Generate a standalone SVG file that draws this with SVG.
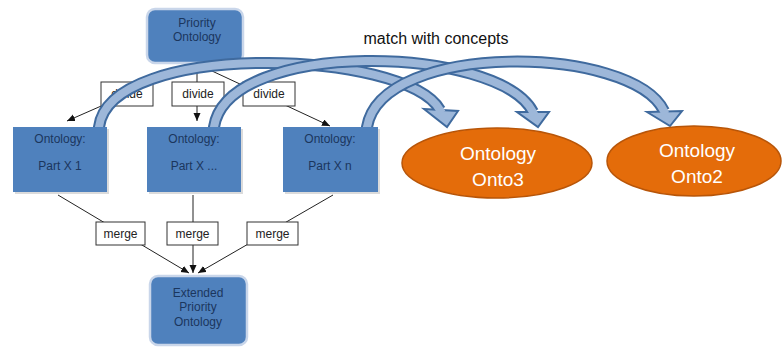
<svg xmlns="http://www.w3.org/2000/svg" width="783" height="354" viewBox="0 0 783 354">
<defs>
<marker id="ah" markerWidth="9" markerHeight="8" refX="8" refY="3.5" orient="auto" markerUnits="userSpaceOnUse">
<path d="M0,0 L8,3.5 L0,7 z" fill="#111"/>
</marker>
<style>
.blue{fill:#4F81BD}
.glow{stroke:#C9D6EA;stroke-width:2.5}
.shadow{fill:#B8B8B8;opacity:0.5}
.btxt{font-family:"Liberation Sans",Arial,sans-serif;font-size:12px;fill:#1B365D;text-anchor:middle}
.lbl{fill:#fff;stroke:#333;stroke-width:1}
.ltxt{font-family:"Liberation Sans",Arial,sans-serif;font-size:12px;fill:#222;text-anchor:middle}
.conn{stroke:#222;stroke-width:1;fill:none}
.ell{fill:#E46C0A;stroke:#B85508;stroke-width:1.5}
.etxt{font-family:"Liberation Sans",Arial,sans-serif;font-size:19px;fill:#fff;text-anchor:middle}
.sh-out{fill:none;stroke:#3F6A9E;stroke-width:12}
.sh-in{fill:none;stroke:#9DB7D9;stroke-width:8}
.head{fill:#9DB7D9;stroke:#3F6A9E;stroke-width:2;stroke-linejoin:miter}
</style>
</defs>
<rect width="783" height="354" fill="#fff"/>

<text x="436" y="44" font-family="Liberation Sans,Arial,sans-serif" font-size="16" fill="#111" text-anchor="middle">match with concepts</text>

<g id="priority">
<rect x="147" y="9" width="96" height="54" rx="8" class="blue glow"/>
<text x="197" y="27" class="btxt">Priority</text>
<text x="197" y="41" class="btxt">Ontology</text>
</g>

<g id="connectors">
<line x1="197" y1="64" x2="67" y2="121" class="conn" marker-end="url(#ah)"/>
<line x1="197" y1="64" x2="197" y2="121" class="conn" marker-end="url(#ah)"/>
<line x1="197" y1="64" x2="330" y2="126" class="conn" marker-end="url(#ah)"/>
<line x1="58" y1="195" x2="189" y2="273" class="conn" marker-end="url(#ah)"/>
<line x1="193" y1="195" x2="193" y2="273" class="conn" marker-end="url(#ah)"/>
<line x1="333" y1="195" x2="198" y2="273" class="conn" marker-end="url(#ah)"/>
</g>

<g id="divide1"><rect x="101" y="82" width="52" height="24" class="lbl"/><text x="127" y="98" class="ltxt">divide</text></g>
<g id="divide2"><rect x="172" y="82" width="52" height="24" class="lbl"/><text x="198" y="98" class="ltxt">divide</text></g>
<g id="divide3"><rect x="243" y="82" width="52" height="24" class="lbl"/><text x="269" y="98" class="ltxt">divide</text></g>

<g id="match-arrows">
<g id="match1">
<path d="M99 130 L99 127 C110 40 405 49 440 110" class="sh-out"/>
<polygon points="424,109 458,111 447,127" class="head"/>
<path d="M99 130 L99 127 C110 40 405 49 440 110 L442 113" class="sh-in"/>
</g>
<g id="match2">
<path d="M214 130 L214 127 C228 38 498 45 533 112" class="sh-out"/>
<polygon points="517,112 549,112 538,127" class="head"/>
<path d="M214 130 L214 127 C228 38 498 45 533 112 L534.5 115" class="sh-in"/>
</g>
<g id="match3">
<path d="M367 130 L367 127 C382 40 632 45 664 111" class="sh-out"/>
<polygon points="647,112 682,111 670,126" class="head"/>
<path d="M367 130 L367 127 C382 40 632 45 664 111 L665.5 114" class="sh-in"/>
</g>
</g>

<g id="part1">
<rect x="15" y="129" width="94" height="65" class="shadow"/>
<rect x="13" y="127" width="94" height="65" class="blue"/>
<text x="60" y="143" class="btxt">Ontology:</text>
<text x="60" y="170" class="btxt">Part X 1</text>
</g>
<g id="part2">
<rect x="149" y="129" width="94" height="65" class="shadow"/>
<rect x="147" y="127" width="94" height="65" class="blue"/>
<text x="194" y="143" class="btxt">Ontology:</text>
<text x="194" y="170" class="btxt">Part X ...</text>
</g>
<g id="part3">
<rect x="285" y="129" width="95" height="65" class="shadow"/>
<rect x="283" y="127" width="95" height="65" class="blue"/>
<text x="330" y="143" class="btxt">Ontology:</text>
<text x="330" y="170" class="btxt">Part X n</text>
</g>

<g id="merge1"><rect x="96" y="222" width="49" height="23" class="lbl"/><text x="120.5" y="238" class="ltxt">merge</text></g>
<g id="merge2"><rect x="167" y="222" width="51" height="23" class="lbl"/><text x="192.5" y="238" class="ltxt">merge</text></g>
<g id="merge3"><rect x="247" y="222" width="51" height="23" class="lbl"/><text x="272.5" y="238" class="ltxt">merge</text></g>

<g id="extended">
<rect x="150" y="276" width="97" height="69" rx="8" class="blue glow"/>
<text x="198" y="297" class="btxt">Extended</text>
<text x="198" y="311" class="btxt">Priority</text>
<text x="198" y="326" class="btxt">Ontology</text>
</g>

<g id="onto3">
<ellipse cx="497" cy="163" rx="95" ry="35" class="ell"/>
<text x="498" y="160" class="etxt">Ontology</text>
<text x="498" y="186" class="etxt">Onto3</text>
</g>
<g id="onto2">
<ellipse cx="694" cy="161" rx="87" ry="35" class="ell"/>
<text x="697" y="157" class="etxt">Ontology</text>
<text x="697" y="183" class="etxt">Onto2</text>
</g>
</svg>
